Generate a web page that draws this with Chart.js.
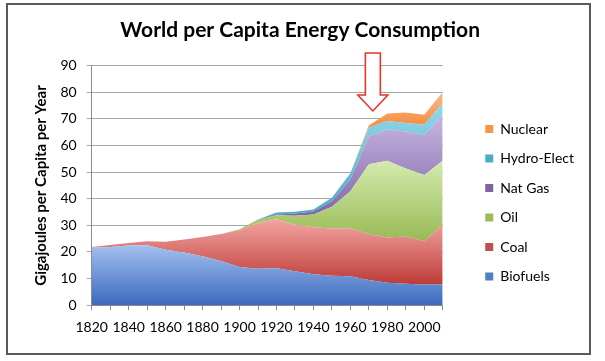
<!DOCTYPE html>
<html>
<head>
<meta charset="utf-8">
<script src="https://cdn.jsdelivr.net/npm/chart.js@4.4.1/dist/chart.umd.min.js"></script>
<style>
  html, body { margin: 0; padding: 0; background: #ffffff; }
  #wrap { position: relative; width: 605px; height: 361px; }
</style>
</head>
<body>
<div id="wrap"><canvas id="c" width="605" height="361"></canvas></div>
<script>
const years = [1820,1830,1840,1850,1860,1870,1880,1890,1900,1910,1920,1930,1940,1950,1960,1970,1980,1990,2000,2010];
const biofuels = [21.6,21.9,22.4,22.5,20.8,19.8,18.4,16.6,14.4,13.7,13.9,12.8,11.6,11.1,10.9,9.5,8.4,8.1,7.8,7.8];
const coal     = [0.3,0.7,1.0,1.5,3.0,4.9,7.2,10.2,13.8,17.3,18.4,17.4,17.7,17.7,18.0,17.2,17.0,17.7,16.2,22.5];
const oil      = [0,0,0,0,0,0,0,0,0.3,1.0,1.5,3.4,4.8,8.2,13.9,26.3,28.9,25.6,24.9,24.0];
const natGas   = [0,0,0,0,0,0,0,0,0,0.1,0.3,0.9,1.1,2.0,4.4,10.5,11.7,13.9,15.1,17.3];
const hydro    = [0,0,0,0,0,0,0,0,0,0.1,0.7,0.6,0.8,1.4,2.4,3.3,3.2,3.2,3.8,4.4];
const nuclear  = [0,0,0,0,0,0,0,0,0,0,0,0,0,0,0,0.7,2.8,3.9,3.8,4.1];
const seriesNames = ['Biofuels','Coal','Oil','Nat Gas','Hydro-Elect','Nuclear'];
const seriesData = [biofuels, coal, oil, natGas, hydro, nuclear];
const yTicks = [0,10,20,30,40,50,60,70,80,90];
const arrowYear = 1970;

// [light (top), dark (bottom), legend]
const palette = [
  ['#a3c0ef', '#3a69bf', '#4f81bd'],
  ['#f3a5a2', '#bd3b37', '#c0504d'],
  ['#d4ebad', '#98ba55', '#9bbb59'],
  ['#c6b8e0', '#7e62a6', '#8064a2'],
  ['#93d8ec', '#45a8c4', '#4bacc6'],
  ['#fbb888', '#f38d3f', '#f79646']
];

function gradFor(i) {
  return function(ctx) {
    const chart = ctx.chart;
    const area = chart.chartArea;
    const y = chart.scales.y;
    if (!area || !y) return palette[i][2];
    let topMax = 0, botMin = Infinity;
    for (let k = 0; k < years.length; k++) {
      let b = 0;
      for (let j = 0; j < i; j++) b += seriesData[j][k];
      const t = b + seriesData[i][k];
      if (seriesData[i][k] > 0) {
        topMax = Math.max(topMax, t);
        botMin = Math.min(botMin, b);
      }
    }
    if (!isFinite(botMin)) botMin = 0;
    const g = chart.ctx.createLinearGradient(0, y.getPixelForValue(topMax), 0, y.getPixelForValue(botMin));
    g.addColorStop(0, palette[i][0]);
    g.addColorStop(1, palette[i][1]);
    return g;
  };
}

const datasets = seriesData.map((d, i) => ({
  label: seriesNames[i],
  data: d,
  fill: i === 0 ? 'origin' : '-1',
  backgroundColor: gradFor(i),
  borderColor: 'rgba(0,0,0,0)',
  borderWidth: 0,
  pointRadius: 0,
  pointHoverRadius: 0,
  tension: 0
}));

const framePlugin = {
  id: 'frame',
  beforeDraw(chart) {
    const c = chart.ctx;
    c.save();
    c.fillStyle = '#ffffff';
    c.fillRect(0, 0, chart.width, chart.height);
    c.restore();
  },
  afterDraw(chart) {
    const c = chart.ctx;
    c.save();
    c.strokeStyle = '#5a5a5a';
    c.lineWidth = 2;
    c.strokeRect(7, 4, chart.width - 22, chart.height - 11);
    c.restore();
  }
};

const arrowPlugin = {
  id: 'arrow',
  afterDraw(chart) {
    const xs = chart.scales.x, ys = chart.scales.y;
    const cx = xs.getPixelForValue(years.indexOf(arrowYear)) + 4;
    const tip = ys.getPixelForValue(73);
    const headTop = ys.getPixelForValue(79);
    const shaftTop = ys.getPixelForValue(94.8);
    const c = chart.ctx;
    c.save();
    c.beginPath();
    c.moveTo(cx - 7.5, shaftTop);
    c.lineTo(cx + 7.5, shaftTop);
    c.lineTo(cx + 7.5, headTop);
    c.lineTo(cx + 15, headTop);
    c.lineTo(cx, tip);
    c.lineTo(cx - 15, headTop);
    c.lineTo(cx - 7.5, headTop);
    c.closePath();
    c.fillStyle = '#ffffff';
    c.fill();
    c.strokeStyle = '#e8352a';
    c.lineWidth = 1.6;
    c.stroke();
    c.restore();
  }
};

const FONT = "Lato, 'Open Sans', sans-serif";

new Chart(document.getElementById('c'), {
  type: 'line',
  data: { labels: years.map(String), datasets },
  options: {
    responsive: false,
    animation: false,
    devicePixelRatio: 1,
    layout: { padding: { left: 26.5, right: 21, top: 0, bottom: 16 } },
    plugins: {
      title: {
        display: true,
        text: 'World per Capita Energy Consumption\u00A0\u00A0',
        color: '#000',
        font: { family: FONT, size: 21, weight: 'bold' },
        padding: { top: 18, bottom: 22.5 }
      },
      legend: {
        position: 'right',
        align: 'center',
        reverse: true,
        title: {
          display: true,
          text: ' ',
          font: { family: FONT, size: 10 },
          padding: { top: 48.5, bottom: 0 }
        },
        labels: {
          color: '#000',
          font: { family: FONT, size: 14 },
          boxWidth: 8,
          boxHeight: 8,
          padding: 15.5,
          generateLabels(chart) {
            const items = Chart.defaults.plugins.legend.labels.generateLabels(chart);
            items.forEach(it => {
              it.fillStyle = palette[it.datasetIndex][2];
              it.strokeStyle = palette[it.datasetIndex][2];
              it.lineWidth = 0;
            });
            return items;
          }
        }
      },
      tooltip: { enabled: false }
    },
    scales: {
      x: {
        type: 'category',
        offset: false,
        grid: { display: true, drawOnChartArea: false, drawTicks: true, tickLength: 5, color: '#8c8c8c' },
        border: { display: true, color: '#8c8c8c' },
        ticks: {
          autoSkip: false,
          maxRotation: 0,
          minRotation: 0,
          padding: 9,
          color: '#000',
          font: { family: FONT, size: 14 },
          callback: (v, idx) => (idx % 2 === 0 ? String(years[idx]) : '')
        }
      },
      y: {
        stacked: true,
        min: 0,
        max: 90,
        afterBuildTicks(scale) { scale.ticks = yTicks.map(v => ({ value: v })); },
        grid: { color: '#a6a6a6', tickLength: 5, drawTicks: true },
        border: { display: true, color: '#8c8c8c' },
        ticks: { padding: 10, color: '#000', font: { family: FONT, size: 14 } },
        title: {
          display: true,
          text: 'Gigajoules per Capita per Year',
          color: '#000',
          font: { family: FONT, size: 15, weight: 'bold' },
          padding: { top: 6, bottom: 0 }
        }
      },
      yr: {
        position: 'right',
        display: false,
        afterFit(scale) { scale.width = 27; }
      }
    }
  },
  plugins: [framePlugin, arrowPlugin]
});
</script>
</body>
</html>
